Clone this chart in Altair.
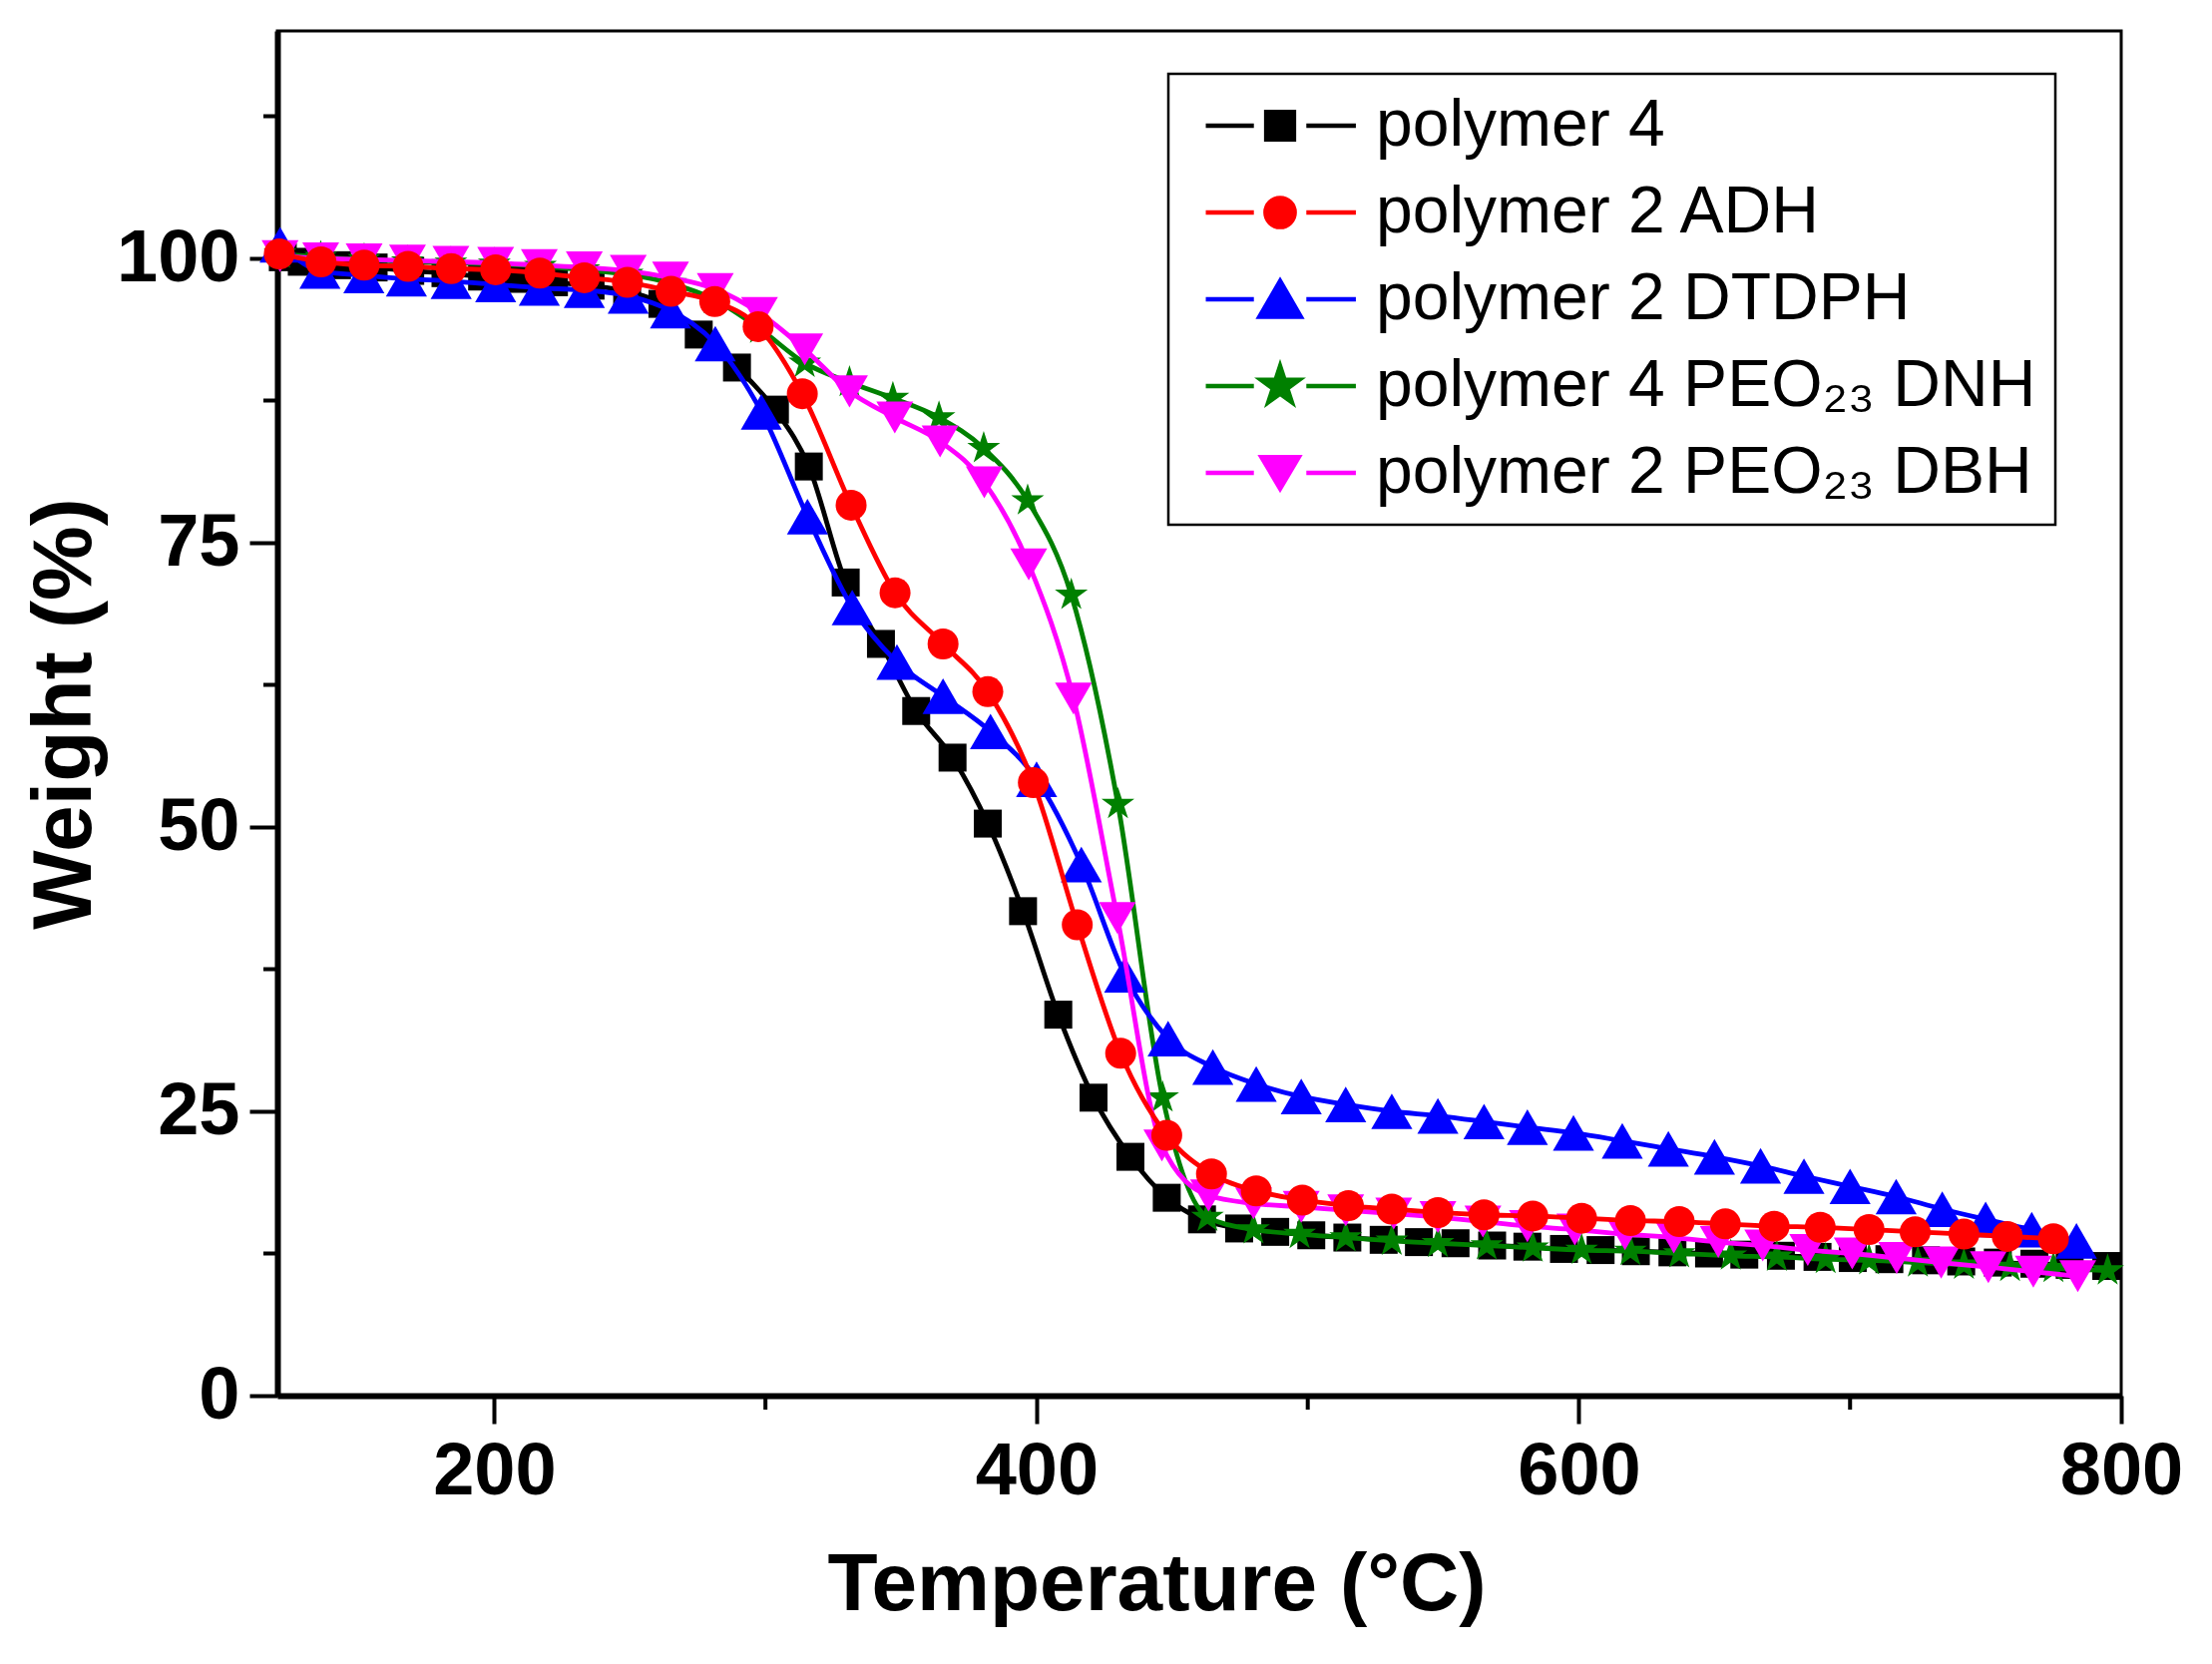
import altair as alt
import pandas as pd

FONT = "Liberation Sans"

series_names = ["polymer 4", "polymer 2 ADH", "polymer 2 DTDPH",
                "polymer 4 PEO₂₃ DNH", "polymer 2 PEO₂₃ DBH"]
series_colors = ["#000000", "#ff0000", "#0000ff", "#008000", "#ff00ff"]

# polymer 4 (black squares)
t_p4 = [122, 129, 142, 155.5, 169, 182, 195.5, 209, 222, 235.5, 249, 262, 275.4, 289.5, 303.5, 316,
        329.6, 342.6, 355.6, 369, 382, 395, 408, 421, 434.6, 448, 461, 474.7, 488, 501.3, 514.6, 528,
        541, 554.5, 568, 581, 594.5, 608, 621, 634.5, 648, 661, 674.5, 688, 701, 714.5, 728, 741,
        754.5, 768, 781, 794.5]
w_p4 = [100.1, 99.7, 99.4, 99.2, 98.9, 98.7, 98.4, 98.2, 97.9, 97.6, 97.1, 96.0, 93.3, 90.4, 86.7, 81.7,
        71.5, 66.1, 60.2, 56.1, 50.3, 42.6, 33.5, 26.2, 21.0, 17.4, 15.5, 14.7, 14.4, 14.1, 13.9, 13.7,
        13.5, 13.4, 13.2, 13.1, 12.9, 12.8, 12.7, 12.6, 12.5, 12.4, 12.3, 12.2, 12.1, 12.0, 11.9, 11.8,
        11.7, 11.6, 11.5, 11.4]

# polymer 2 ADH (red circles)
t_adh = [120.7, 136.1, 152, 168.2, 184.1, 200.5, 216.8, 233.2, 249.1, 265.2, 281.3, 297.3, 313.6, 331.6,
         347.8, 365.5, 382, 398.8, 415, 431, 448, 464.5, 481, 498, 515, 531, 548, 565, 583, 601, 619,
         637, 654, 672, 689, 707, 724, 742, 758, 775]
w_adh = [100.4, 99.7, 99.4, 99.3, 99.1, 99.0, 98.7, 98.3, 97.9, 97.1, 96.2, 94.0, 88.1, 78.3,
         70.6, 66.1, 61.9, 53.9, 41.4, 30.1, 22.9, 19.5, 18.0, 17.2, 16.7, 16.4, 16.1, 15.9, 15.8, 15.6, 15.4,
         15.3, 15.1, 14.9, 14.8, 14.6, 14.4, 14.2, 14.0, 13.8]

# polymer 2 DTDPH (blue up-triangles)
t_dtdph = [121, 135.7, 151.9, 167.6, 184.1, 200.5, 216.6, 233.2, 249.4, 265, 281.5, 298.5, 315.5, 332,
           348.5, 365.5, 383, 400, 416.5, 432.5, 448.5, 465, 481, 497.6, 514, 531, 548, 565, 581, 598,
           616, 633, 650, 667, 683, 700, 717, 734, 750, 767, 783.5]
w_dtdph = [101.2, 98.9, 98.5, 98.2, 98.0, 97.7, 97.4, 97.2, 96.7, 95.4, 92.5, 86.5, 77.3, 69.3,
           64.5, 61.5, 58.4, 54.2, 46.7, 37.0, 31.4, 28.9, 27.4, 26.3, 25.6, 25.0, 24.6, 24.1, 23.6, 23.1,
           22.4, 21.7, 21.0, 20.2, 19.3, 18.4, 17.5, 16.4, 15.5, 14.6, 13.6]

# polymer 4 PEO23 DNH (green stars)
t_dnh = [121, 136, 152, 168, 184, 200, 217, 233, 249, 265, 281, 298, 314.5, 331, 347, 364, 380.5, 396.7,
         412.8, 430, 446.5, 463, 480, 497, 514, 531, 548, 566, 583, 601, 619, 637, 656, 673, 691, 707,
         725, 742, 759, 775, 795]
w_dnh = [100.4, 100.1, 99.9, 99.7, 99.6, 99.5, 99.3, 99.0, 98.6, 97.8, 96.4, 93.8, 90.8, 89.1, 87.7, 86.0,
         83.3, 78.7, 70.4, 52.0, 26.2, 15.7, 14.6, 14.2, 13.9, 13.6, 13.4, 13.2, 13.0, 12.8, 12.7, 12.5,
         12.3, 12.2, 12.0, 11.9, 11.7, 11.5, 11.3, 11.2, 11.0]

# polymer 2 PEO23 DBH (magenta down-triangles)
t_dbh = [121, 136, 152, 168, 184, 200.5, 216.6, 233.2, 249.4, 265, 281.5, 297.8, 314.5, 331, 347.7, 364.4,
         380.7, 397.1, 413.6, 429.8, 446.2, 463.4, 480, 497.6, 514, 531.7, 548, 564.6, 581, 598.5, 617,
         635, 651.4, 667.8, 684.4, 700.8, 717.2, 733.6, 751, 767.6, 784]
w_dbh = [100.2, 100.0, 99.9, 99.8, 99.7, 99.6, 99.4, 99.2, 98.9, 98.3, 97.3, 95.2, 92.0, 88.3, 86.0, 83.9,
         80.3, 73.1, 61.3, 42.0, 22.0, 17.6, 16.9, 16.6, 16.3, 16.0, 15.7, 15.3, 14.9, 14.6, 14.2,
         13.9, 13.5, 13.2, 12.8, 12.5, 12.1, 11.7, 11.3, 10.9, 10.5]

x_major = [200, 400, 600, 800]
x_minor = [300, 500, 700]
y_major = [0, 25, 50, 75, 100]
y_minor = [12.5, 37.5, 62.5, 87.5, 112.5]

all_t = [t_p4, t_adh, t_dtdph, t_dnh, t_dbh]
all_w = [w_p4, w_adh, w_dtdph, w_dnh, w_dbh]

rows = []
for name, ts, ws in zip(series_names, all_t, all_w):
    for t, w in zip(ts, ws):
        rows.append({"series": name, "T": t, "W": w})
df = pd.DataFrame(rows)

STAR = ("M0,-1L0.2245,-0.309L0.951,-0.309L0.363,0.118L0.588,0.809L0,0.382L-0.588,0.809"
        "L-0.363,0.118L-0.951,-0.309L-0.2245,-0.309Z")
marker_shapes = ["square", "circle", "triangle-up", STAR, "triangle-down"]
marker_sizes = [784, 961, 1700, 1204, 1369]

SEG = "M-5.1,0L-1.8,0M1.8,0L5.2,0"
legend_paths = [
    SEG + "M-0.95,-0.95L0.95,-0.95L0.95,0.95L-0.95,0.95Z",
    SEG + "M1,0A1,1 0 1,1 -1,0A1,1 0 1,1 1,0Z",
    SEG + "M0,-1.25L1.42,1.2L-1.42,1.2Z",
    SEG + ("M0,-1.37L0.3076,-0.4233L1.3029,-0.4233L0.4973,0.1617L0.8056,1.1083L0,0.5233"
           "L-0.8056,1.1083L-0.4973,0.1617L-1.3029,-0.4233L-0.3076,-0.4233Z"),
    SEG + "M-1.28,-1.08L1.28,-1.08L0,1.08Z",
]

W_PLOT = 1848
H_PLOT = 1368

x_scale = alt.Scale(domain=[120, 800], nice=False, zero=False)
y_scale = alt.Scale(domain=[0, 120], nice=False, zero=False)

x_axis = alt.Axis(values=x_major, title="Temperature (°C)", tickSize=28, tickWidth=4,
                  domainWidth=6, labelFontSize=74, labelFontWeight="bold", labelFont=FONT,
                  labelPadding=12, titleFontSize=82, titleFontWeight="bold", titleFont=FONT,
                  titlePadding=36, titleX=W_PLOT / 2 - 43, labelFlush=False, grid=False, format="d",
                  domainColor="black", tickColor="black", labelColor="black", titleColor="black")
y_axis = alt.Axis(values=y_major, title="Weight (%)", tickSize=28, tickWidth=4,
                  domainWidth=6, labelFontSize=74, labelFontWeight="bold", labelFont=FONT,
                  labelPadding=10, titleFontSize=84, titleFontWeight="bold", titleFont=FONT,
                  titlePadding=8, grid=False, format="d",
                  domainColor="black", tickColor="black", labelColor="black", titleColor="black")

X = alt.X("T:Q", scale=x_scale, axis=x_axis)
Y = alt.Y("W:Q", scale=y_scale, axis=y_axis)

draw_order = [0, 3, 2, 4, 1]
layers = []
for i in draw_order:
    base = alt.Chart(df).transform_filter(alt.datum.series == series_names[i])
    line = base.mark_line(color=series_colors[i], strokeWidth=4.8, interpolate="monotone").encode(
        x=X, y=Y, order="T:Q")
    pts = base.mark_point(shape=marker_shapes[i], size=marker_sizes[i], filled=True, opacity=1,
                          color=series_colors[i], strokeWidth=0).encode(x=X, y=Y)
    layers += [line, pts]

xminor = alt.Chart(pd.DataFrame({"T": x_minor})).mark_rule(color="black", strokeWidth=4).encode(
    x=X, y=alt.value(H_PLOT), y2=alt.value(H_PLOT + 14))
yminor = alt.Chart(pd.DataFrame({"W": y_minor})).mark_rule(color="black", strokeWidth=4).encode(
    y=Y, x=alt.value(0), x2=alt.value(-14))

legend_def = alt.Legend(title=None, orient="none", legendX=893, legendY=43,
                        labelFont=FONT, labelFontSize=66, labelColor="black", labelLimit=1200,
                        symbolSize=853, symbolStrokeWidth=4.5, symbolOffset=60, labelOffset=63,
                        rowPadding=21, padding=19, strokeColor="black", fillColor="white",
                        symbolOpacity=1)
leg = alt.Chart(pd.DataFrame({"series": series_names})).transform_filter("false").mark_point(
    filled=True, opacity=1, size=853, strokeWidth=4.5).encode(
    fill=alt.Fill("series:N", scale=alt.Scale(domain=series_names, range=series_colors), legend=legend_def),
    stroke=alt.Stroke("series:N", scale=alt.Scale(domain=series_names, range=series_colors), legend=legend_def),
    shape=alt.Shape("series:N", scale=alt.Scale(domain=series_names, range=legend_paths), legend=legend_def),
)

chart = alt.layer(*layers, xminor, yminor, leg).properties(
    width=W_PLOT, height=H_PLOT,
    padding={"left": 15, "top": 23, "right": 5, "bottom": 5},
    background="white",
).configure_view(stroke="black", strokeWidth=3).configure_legend(strokeWidth=2.5)

chart.save("out.html", embed_options={"renderer": "svg", "actions": False})
